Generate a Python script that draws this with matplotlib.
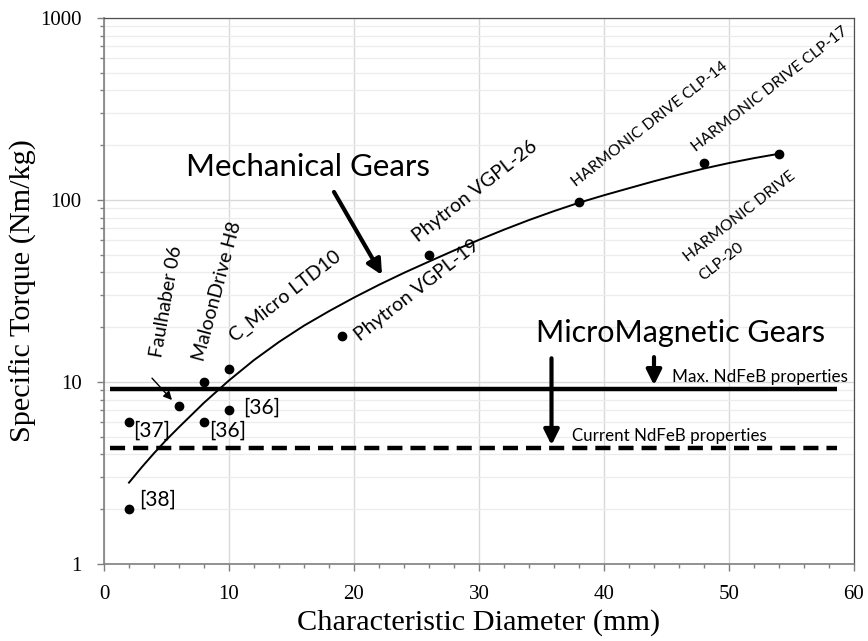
import matplotlib
matplotlib.use("Agg")
import matplotlib.pyplot as plt
from matplotlib.ticker import FixedLocator, FuncFormatter, LogLocator, NullFormatter, MultipleLocator

# ---- data ----
point_x = [2, 2, 6, 8, 8, 10, 10, 19, 26, 38, 48, 54]
point_y = [2.0, 6.0, 7.4, 10.0, 6.0, 11.8, 7.0, 18.0, 50.0, 97.0, 160.0, 180.0]

trend_x = [2, 3, 4, 5, 6, 8, 10, 12, 14, 16, 18, 20, 22, 24, 26, 28, 30, 32, 34, 36, 38,
           40, 42, 44, 46, 48, 50, 52, 54]
trend_y = [2.80, 3.39, 4.06, 4.82, 5.65, 7.69, 10.2, 13.2, 16.6, 20.4, 24.5, 29.1, 34.2,
           39.8, 45.9, 52.8, 60.4, 68.7, 77.6, 86.9, 96.6, 106.2, 116.1, 126.8, 137.7,
           148.9, 159.6, 169.8, 179.5]

max_ndfeb = 9.15
current_ndfeb = 4.34
ndfeb_x = [0.5, 58.6]

# rotated product labels: (text, x, y, rotation, fontsize)
product_labels = [
    ("Faulhaber 06", 4.6, 13.6, 80, 14),
    ("MaloonDrive H8", 8.0, 12.9, 75, 14),
    ("C_Micro LTD10", 10.5, 16.4, 38, 14),
    ("Phytron VGPL-19", 20.5, 16.6, 38, 14),
    ("Phytron VGPL-26", 25.1, 58, 38, 14),
    ("HARMONIC DRIVE CLP-14", 37.8, 118, 38, 11.3),
    ("HARMONIC DRIVE CLP-17", 47.4, 184, 38, 11.3),
    ("HARMONIC DRIVE", 46.7, 45.6, 38, 11.3),
    ("CLP-20", 47.9, 35.9, 38, 11.3),
]
ref_labels = [("[38]", 2.8, 2.25), ("[37]", 2.3, 5.38), ("[36]", 8.4, 5.38), ("[36]", 11.1, 7.2)]

x_ticks = [0, 10, 20, 30, 40, 50, 60]
y_ticks = [1, 10, 100, 1000]

serif = "Liberation Serif"
sans = "Lato"

fig = plt.figure(figsize=(8.68, 6.41), dpi=100)
ax = fig.add_axes([104 / 868, 1 - 564 / 641, 750 / 868, 546 / 641])
ax.set_yscale("log")
ax.set_xlim(0, 60)
ax.set_ylim(1, 1000)

# grid
ax.yaxis.set_major_locator(FixedLocator(y_ticks))
ax.yaxis.set_minor_locator(LogLocator(base=10, subs=range(2, 10)))
ax.yaxis.set_major_formatter(FuncFormatter(lambda v, p: f"{int(v)}"))
ax.yaxis.set_minor_formatter(NullFormatter())
ax.xaxis.set_major_locator(FixedLocator(x_ticks))
ax.xaxis.set_minor_locator(MultipleLocator(2))
ax.grid(True, which="major", axis="both", color="#d9d9d9", lw=1.0)
ax.grid(True, which="minor", axis="y", color="#ececec", lw=0.9)
ax.set_axisbelow(True)

for s in ["left", "bottom"]:
    ax.spines[s].set_color("#7f7f7f")
    ax.spines[s].set_linewidth(1.2)
for s in ["top", "right"]:
    ax.spines[s].set_color("#505050")
    ax.spines[s].set_linewidth(0.9)

ax.tick_params(axis="both", which="major", direction="out", length=5, width=1, color="#7f7f7f",
               labelsize=15)
ax.tick_params(axis="x", which="major", pad=10)
ax.tick_params(axis="y", which="major", pad=11)
ax.tick_params(axis="both", which="minor", direction="out", length=3, width=1, color="#7f7f7f")
for lab in ax.get_xticklabels() + ax.get_yticklabels():
    lab.set_fontfamily(serif)

ax.set_xlabel("Characteristic Diameter (mm)", fontfamily=serif, fontsize=21.8, labelpad=4)
ax.set_ylabel("Specific Torque (Nm/kg)", fontfamily=serif, fontsize=21.8, labelpad=2)

# trend curve and points
ax.plot(trend_x, trend_y, color="black", lw=1.4, zorder=3, solid_joinstyle="round")
ax.plot(point_x, point_y, "o", color="black", ms=6, zorder=4)

# NdFeB lines
ax.plot(ndfeb_x, [max_ndfeb, max_ndfeb], color="black", lw=3.2, solid_capstyle="butt", zorder=3)
ax.plot(ndfeb_x, [current_ndfeb, current_ndfeb], color="black", lw=3.2, dashes=(3.4, 1.8),
        dash_capstyle="butt", zorder=3)

# labels
for text, x, y, rot, fs in product_labels:
    ax.text(x, y, text, rotation=rot, rotation_mode="anchor", ha="left", va="baseline",
            fontfamily=sans, fontsize=fs, zorder=5)
for text, x, y in ref_labels:
    ax.text(x, y, text, ha="left", va="center", fontfamily=sans, fontsize=15, zorder=5)

ax.text(6.6, 152, "Mechanical Gears", fontfamily=sans, fontsize=22.5, ha="left", va="center")
ax.text(46.1, 18.6, "MicroMagnetic Gears", fontfamily=sans, fontsize=22, ha="center", va="center")
ax.text(45.4, 10.65, "Max. NdFeB properties", fontfamily=sans, fontsize=12.3, ha="left", va="center")
ax.text(37.4, 5.05, "Current NdFeB properties", fontfamily=sans, fontsize=12.2, ha="left", va="center")

# arrows
big = dict(arrowstyle="-|>,head_length=0.9,head_width=0.45", color="black", lw=3, shrinkA=0, shrinkB=0)
ax.annotate("", xy=(22.24, 38.7), xytext=(18.4, 110.7), arrowprops=big)
ax.annotate("", xy=(35.8, 4.5), xytext=(35.8, 13.5), arrowprops=big)
ax.annotate("", xy=(44.0, 9.6), xytext=(44.0, 13.7), arrowprops=big)
ax.annotate("", xy=(5.44, 7.96), xytext=(3.84, 10.5),
            arrowprops=dict(arrowstyle="-|>,head_length=0.5,head_width=0.25", color="black", lw=1,
                            shrinkA=0, shrinkB=0))

fig.savefig("out.png", dpi=100)
